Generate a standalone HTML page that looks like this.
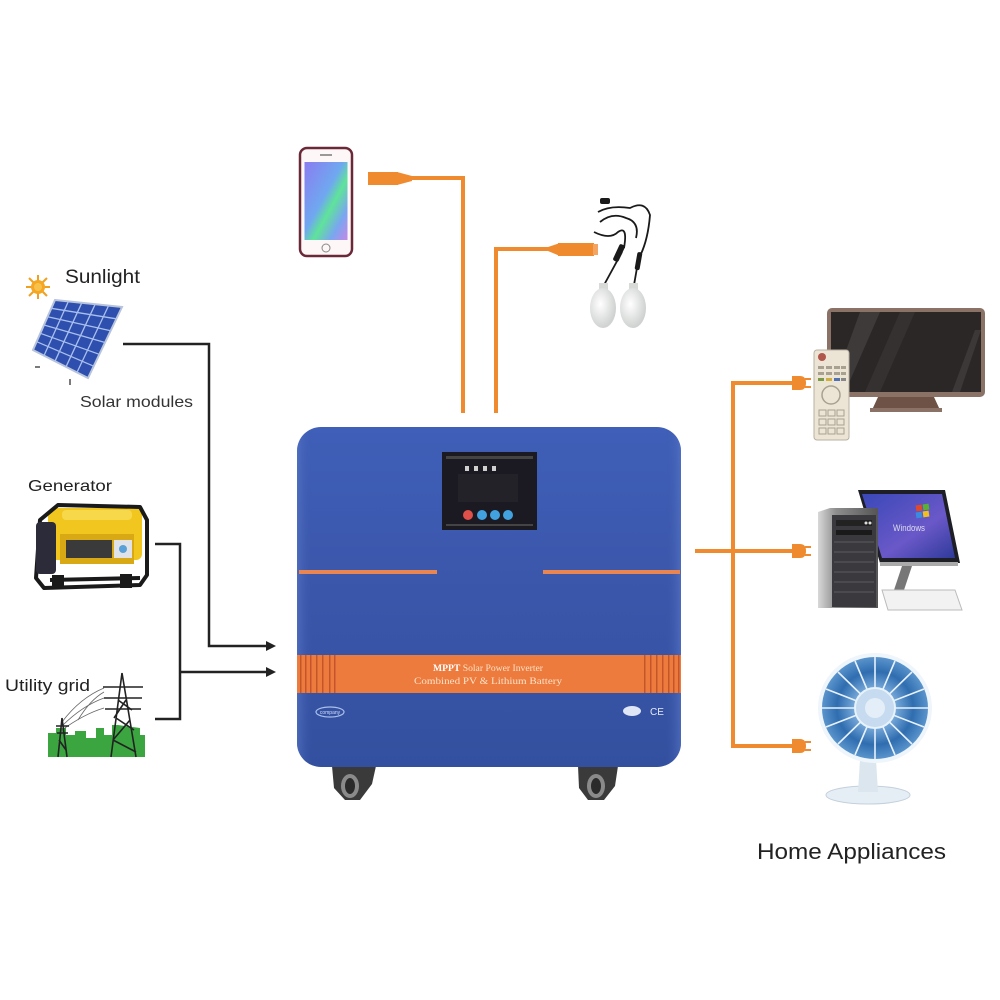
<!DOCTYPE html>
<html><head><meta charset="utf-8">
<style>
html,body{margin:0;padding:0;background:#fff;}
svg{display:block;}
text{font-family:"Liberation Sans",Arial,sans-serif;}
</style></head>
<body>
<svg width="1000" height="1000" viewBox="0 0 1000 1000" xmlns="http://www.w3.org/2000/svg">
<defs>
  <linearGradient id="boxg" x1="0" y1="0" x2="0" y2="1">
    <stop offset="0" stop-color="#3f5fb8"/>
    <stop offset="0.5" stop-color="#3a56aa"/>
    <stop offset="1" stop-color="#33509f"/>
  </linearGradient>
  <linearGradient id="boxh" x1="0" y1="0" x2="1" y2="0">
    <stop offset="0" stop-color="#5a78c8" stop-opacity="0.6"/>
    <stop offset="0.04" stop-color="#3a56aa" stop-opacity="0"/>
    <stop offset="0.96" stop-color="#3a56aa" stop-opacity="0"/>
    <stop offset="1" stop-color="#5a78c8" stop-opacity="0.6"/>
  </linearGradient>
  <linearGradient id="screen1" x1="0" y1="0" x2="1" y2="1">
    <stop offset="0" stop-color="#8a7cf0"/>
    <stop offset="0.45" stop-color="#6fa8f0"/>
    <stop offset="0.6" stop-color="#5fe39a"/>
    <stop offset="0.8" stop-color="#7aa6f0"/>
    <stop offset="1" stop-color="#c588e6"/>
  </linearGradient>
  <radialGradient id="fang" cx="0.5" cy="0.5" r="0.5">
    <stop offset="0" stop-color="#e0ecf7"/>
    <stop offset="0.35" stop-color="#7fb0de"/>
    <stop offset="0.72" stop-color="#2f6db0"/>
    <stop offset="1" stop-color="#5a94cc"/>
  </radialGradient>
  <linearGradient id="towerg" x1="0" y1="0" x2="1" y2="0">
    <stop offset="0" stop-color="#d8d8d8"/>
    <stop offset="0.3" stop-color="#8e8e8e"/>
    <stop offset="1" stop-color="#555"/>
  </linearGradient>
  <linearGradient id="monig" x1="0" y1="0" x2="1" y2="1">
    <stop offset="0" stop-color="#3a48b8"/>
    <stop offset="0.6" stop-color="#6a58c8"/>
    <stop offset="1" stop-color="#2e3a9a"/>
  </linearGradient>
  <radialGradient id="bulbg" cx="0.4" cy="0.4" r="0.6">
    <stop offset="0" stop-color="#ffffff"/>
    <stop offset="1" stop-color="#cfd2d0"/>
  </radialGradient>
</defs>

<!-- ============ LEFT SIDE ============ -->
<g transform="translate(38,287)">
  <g stroke="#f0a020" stroke-width="2">
    <line x1="-12" y1="0" x2="12" y2="0"/>
    <line x1="0" y1="-12" x2="0" y2="12"/>
    <line x1="-9" y1="-9" x2="9" y2="9"/>
    <line x1="-9" y1="9" x2="9" y2="-9"/>
  </g>
  <circle r="7" fill="#f5a623"/>
  <circle r="4" fill="#f7c24a"/>
</g>
<text x="65" y="283" font-size="19" fill="#222" textLength="75" lengthAdjust="spacingAndGlyphs">Sunlight</text>

<polygon points="55,300 122,307 88,378 33,350" fill="#2e4fae" stroke="#b8c4dc" stroke-width="2"/>
<g stroke="#a9c0ee" stroke-width="1.3">
  <line x1="68.4" y1="301.4" x2="44" y2="355.6"/>
  <line x1="81.8" y1="302.8" x2="55" y2="361.2"/>
  <line x1="95.2" y1="304.2" x2="66" y2="366.8"/>
  <line x1="108.6" y1="305.6" x2="77" y2="372.4"/>
  <line x1="51.3" y1="308.3" x2="116.3" y2="318.8"/>
  <line x1="47.7" y1="316.7" x2="110.7" y2="330.7"/>
  <line x1="44" y1="325" x2="105" y2="342.5"/>
  <line x1="40.3" y1="333.3" x2="99.3" y2="354.3"/>
  <line x1="36.7" y1="341.7" x2="93.7" y2="366.2"/>
</g>
<line x1="35" y1="367" x2="40" y2="367" stroke="#333" stroke-width="1.3"/>
<line x1="70" y1="379" x2="70" y2="385" stroke="#333" stroke-width="1.3"/>
<text x="80" y="407" font-size="16" fill="#333" textLength="113" lengthAdjust="spacingAndGlyphs">Solar modules</text>

<text x="28" y="491" font-size="16" fill="#222" textLength="84" lengthAdjust="spacingAndGlyphs">Generator</text>
<g>
  <rect x="48" y="508" width="94" height="52" rx="6" fill="#f1c61e"/>
  <path d="M40,520 L58,505 L140,507 L147,520 L147,575 L140,585 L44,588 L36,578 Z" fill="none" stroke="#1a1a1a" stroke-width="4" stroke-linejoin="round"/>
  <rect x="36" y="522" width="20" height="52" rx="4" fill="#2b2b3a"/>
  <rect x="60" y="534" width="74" height="30" fill="#d9a915"/>
  <rect x="66" y="540" width="46" height="18" fill="#3a3a3a"/>
  <rect x="114" y="540" width="18" height="18" fill="#dfe3e8"/>
  <circle cx="123" cy="549" r="4" fill="#5aa0d8"/>
  <rect x="62" y="510" width="70" height="10" rx="4" fill="#f7d84a"/>
  <line x1="50" y1="580" x2="140" y2="578" stroke="#1a1a1a" stroke-width="4"/>
  <rect x="52" y="575" width="12" height="14" fill="#1a1a1a"/>
  <rect x="120" y="574" width="12" height="14" fill="#1a1a1a"/>
</g>

<text x="5" y="691" font-size="17" fill="#222" textLength="85" lengthAdjust="spacingAndGlyphs">Utility grid</text>
<path d="M48,757 L48,733 L56,733 L56,728 L66,728 L66,735 L75,735 L75,731 L86,731 L86,738 L96,738 L96,728 L104,728 L104,735 L112,735 L112,725 L118,725 L140,728 L140,735 L145,735 L145,757 Z" fill="#3ba540"/>
<g stroke="#666" stroke-width="0.8" fill="none">
  <path d="M104,688 Q80,698 62,722"/>
  <path d="M104,698 Q82,706 62,726"/>
  <path d="M104,708 Q84,714 62,730"/>
  <path d="M104,692 Q90,700 78,720"/>
</g>
<g stroke="#222" stroke-width="1.6" fill="none">
  <path d="M122,673 L111,757 M122,673 L136,757"/>
  <path d="M118,700 L132,710 M126,700 L114,718 M116,718 L134,730 M130,720 L113,740 M113,740 L136,752"/>
  <path d="M103,687 L143,687 M104,698 L142,698 M105,709 L141,709"/>
  <path d="M62,718 L58,757 M62,718 L67,757 M56,726 L69,726 M57,733 L68,733 M59,740 L66,750"/>
</g>

<g stroke="#222" stroke-width="2.5" fill="none">
  <polyline points="123,344 209,344 209,646 268,646"/>
  <polyline points="155,544 180,544 180,719 155,719"/>
  <line x1="180" y1="672" x2="268" y2="672"/>
</g>
<polygon points="266,641 276,646 266,651" fill="#222"/>
<polygon points="266,667 276,672 266,677" fill="#222"/>

<!-- ============ TOP ============ -->
<rect x="300" y="148" width="52" height="108" rx="7" fill="#fdf7f7" stroke="#6a2838" stroke-width="2.5"/>
<rect x="304.5" y="162" width="43" height="78" fill="url(#screen1)"/>
<rect x="320" y="154" width="12" height="2" fill="#999"/>
<circle cx="326" cy="248" r="4" fill="none" stroke="#888" stroke-width="1"/>

<g fill="#ef8b2e">
  <rect x="368" y="172" width="30" height="13"/>
  <polygon points="397,172 412,176 412,181 397,185"/>
  <rect x="410" y="176" width="55" height="4"/>
  <rect x="461" y="176" width="4" height="237"/>
</g>

<g fill="#ef8b2e">
  <rect x="494" y="247" width="4" height="166"/>
  <rect x="494" y="247" width="56" height="4"/>
  <polygon points="548,247 560,243 560,256 548,251"/>
  <rect x="558" y="243" width="36" height="13"/>
  <rect x="593" y="244" width="5" height="11" fill="#f2a460"/>
</g>

<g fill="none" stroke="#1a1a1a" stroke-width="1.8">
  <path d="M598,212 Q610,205 630,208 Q645,200 650,215 Q648,240 640,256"/>
  <path d="M600,222 Q612,212 626,218 Q640,222 636,238"/>
  <path d="M594,232 Q610,240 618,232 Q628,225 624,248"/>
  <path d="M622,252 L604,285"/>
  <path d="M638,262 L634,285"/>
</g>
<g fill="#1a1a1a">
  <rect x="616" y="244" width="6" height="18" rx="2" transform="rotate(25 619 253)"/>
  <rect x="636" y="252" width="5" height="18" rx="2" transform="rotate(10 638 261)"/>
  <rect x="600" y="198" width="10" height="6" rx="2"/>
</g>
<g>
  <rect x="599" y="283" width="9" height="8" fill="#d8dad8"/>
  <ellipse cx="603" cy="308" rx="13" ry="20" fill="url(#bulbg)"/>
  <rect x="629" y="283" width="9" height="8" fill="#d8dad8"/>
  <ellipse cx="633" cy="308" rx="13" ry="20" fill="url(#bulbg)"/>
</g>

<!-- ============ INVERTER ============ -->
<g>
  <path d="M332,766 L376,766 L372,784 L360,800 L345,800 L334,788 Z" fill="#3a3a3a"/>
  <ellipse cx="350" cy="786" rx="9" ry="12" fill="#8a8a8a"/>
  <ellipse cx="350" cy="786" rx="5" ry="8" fill="#2a2a2a"/>
  <path d="M578,766 L618,766 L615,786 L604,800 L588,800 L579,788 Z" fill="#3a3a3a"/>
  <ellipse cx="596" cy="786" rx="9" ry="12" fill="#8a8a8a"/>
  <ellipse cx="596" cy="786" rx="5" ry="8" fill="#2a2a2a"/>
</g>
<rect x="297" y="427" width="384" height="340" rx="24" fill="url(#boxg)"/>
<rect x="297" y="427" width="384" height="340" rx="24" fill="url(#boxh)"/>
<rect x="442" y="452" width="95" height="78" fill="#1b1a22"/>
<rect x="446" y="456" width="87" height="3" fill="#444"/>
<rect x="446" y="524" width="87" height="2" fill="#444"/>
<rect x="458" y="474" width="60" height="28" fill="#232229"/>
<g fill="#cfcfcf">
  <rect x="465" y="466" width="4" height="5"/>
  <rect x="474" y="466" width="4" height="5"/>
  <rect x="483" y="466" width="4" height="5"/>
  <rect x="492" y="466" width="4" height="5"/>
</g>
<circle cx="468" cy="515" r="5" fill="#e0504a"/>
<circle cx="482" cy="515" r="5" fill="#42a2e0"/>
<circle cx="495" cy="515" r="5" fill="#42a2e0"/>
<circle cx="508" cy="515" r="5" fill="#42a2e0"/>
<rect x="299" y="570" width="138" height="4" fill="#e98550"/>
<rect x="543" y="570" width="137" height="4" fill="#e98550"/>
<rect x="297" y="655" width="384" height="38" fill="#ec7b3d"/>
<g fill="#c4552a">
  <rect x="300" y="655" width="1.5" height="38"/>
  <rect x="305" y="655" width="1.5" height="38"/>
  <rect x="310" y="655" width="1.5" height="38"/>
  <rect x="316" y="655" width="1.5" height="38"/>
  <rect x="322" y="655" width="1.5" height="38"/>
  <rect x="329" y="655" width="1.5" height="38"/>
  <rect x="334" y="655" width="1.5" height="38"/>
  <rect x="644" y="655" width="1.5" height="38"/>
  <rect x="650" y="655" width="1.5" height="38"/>
  <rect x="656" y="655" width="1.5" height="38"/>
  <rect x="662" y="655" width="1.5" height="38"/>
  <rect x="668" y="655" width="1.5" height="38"/>
  <rect x="673" y="655" width="1.5" height="38"/>
  <rect x="678" y="655" width="1.5" height="38"/>
</g>
<text x="488" y="671" font-size="9" fill="#fbe2c8" text-anchor="middle" style="font-family:'Liberation Serif',serif" textLength="110" lengthAdjust="spacingAndGlyphs"><tspan font-weight="bold" fill="#fff">MPPT</tspan> Solar Power Inverter</text>
<text x="488" y="684" font-size="9" fill="#fbe2c8" text-anchor="middle" style="font-family:'Liberation Serif',serif" textLength="148" lengthAdjust="spacingAndGlyphs">Combined PV &amp; Lithium Battery</text>
<ellipse cx="330" cy="712" rx="14" ry="5" fill="none" stroke="#aac0ea" stroke-width="1.2"/>
<text x="330" y="714" font-size="5" fill="#d0ddf5" text-anchor="middle">company</text>
<ellipse cx="632" cy="711" rx="9" ry="5" fill="#dfe6f5"/>
<text x="650" y="715" font-size="10" fill="#e4eaf7">CE</text>

<!-- ============ RIGHT SIDE ============ -->
<g fill="#ef8b2e">
  <rect x="695" y="549" width="38" height="4"/>
  <rect x="731" y="381" width="4" height="367"/>
  <rect x="731" y="381" width="62" height="4"/>
  <rect x="733" y="549" width="60" height="4"/>
  <rect x="731" y="744" width="62" height="4"/>
</g>
<g fill="#ef8b2e">
  <path d="M792,376 L800,376 Q806,376 806,383 Q806,390 800,390 L792,390 Z"/>
  <rect x="805" y="378" width="6" height="2"/>
  <rect x="805" y="386" width="6" height="2"/>
  <path d="M792,544 L800,544 Q806,544 806,551 Q806,558 800,558 L792,558 Z"/>
  <rect x="805" y="546" width="6" height="2"/>
  <rect x="805" y="554" width="6" height="2"/>
  <path d="M792,739 L800,739 Q806,739 806,746 Q806,753 800,753 L792,753 Z"/>
  <rect x="805" y="741" width="6" height="2"/>
  <rect x="805" y="749" width="6" height="2"/>
</g>

<rect x="827" y="308" width="158" height="89" rx="5" fill="#8a7267"/>
<rect x="831" y="312" width="150" height="80" fill="#2b2727"/>
<polygon points="860,312 880,312 845,392 831,392" fill="#3f3a3a"/>
<polygon points="900,312 915,312 880,392 865,392" fill="#353131"/>
<polygon points="975,330 981,330 960,392 952,392" fill="#3d3838"/>
<path d="M878,397 L934,397 L940,410 L872,410 Z" fill="#6e5246"/>
<rect x="870" y="408" width="72" height="4" fill="#8a7267"/>
<rect x="814" y="350" width="35" height="90" rx="3" fill="#ece5d5" stroke="#b9b0a0" stroke-width="1"/>
<circle cx="822" cy="357" r="4" fill="#b0564a"/>
<g fill="#a8a090">
  <rect x="818" y="366" width="6" height="3"/><rect x="826" y="366" width="6" height="3"/><rect x="834" y="366" width="6" height="3"/><rect x="841" y="366" width="5" height="3"/>
  <rect x="818" y="372" width="6" height="3"/><rect x="826" y="372" width="6" height="3"/><rect x="834" y="372" width="6" height="3"/><rect x="841" y="372" width="5" height="3"/>
</g>
<g>
  <rect x="818" y="378" width="6" height="3" fill="#7a9a4a"/><rect x="826" y="378" width="6" height="3" fill="#d0b040"/><rect x="834" y="378" width="6" height="3" fill="#5070b0"/><rect x="841" y="378" width="5" height="3" fill="#888"/>
</g>
<circle cx="831" cy="395" r="9" fill="none" stroke="#a8a090" stroke-width="1.5"/>
<g fill="none" stroke="#a8a090" stroke-width="1">
  <rect x="819" y="410" width="7" height="6"/><rect x="828" y="410" width="7" height="6"/><rect x="837" y="410" width="7" height="6"/>
  <rect x="819" y="419" width="7" height="6"/><rect x="828" y="419" width="7" height="6"/><rect x="837" y="419" width="7" height="6"/>
  <rect x="819" y="428" width="7" height="6"/><rect x="828" y="428" width="7" height="6"/><rect x="837" y="428" width="7" height="6"/>
</g>

<polygon points="858,490 945,490 960,563 880,563" fill="#1e1e26"/>
<polygon points="862,494 942,494 955,558 882,558" fill="url(#monig)"/>
<g>
  <rect x="916" y="505" width="6" height="6" fill="#e04a2a" transform="rotate(-8 919 508)"/>
  <rect x="923" y="504" width="6" height="6" fill="#5ab030" transform="rotate(-8 926 507)"/>
  <rect x="916" y="512" width="6" height="6" fill="#3a8ae0" transform="rotate(-8 919 515)"/>
  <rect x="923" y="511" width="6" height="6" fill="#f0c020" transform="rotate(-8 926 514)"/>
</g>
<text x="893" y="531" font-size="9" fill="#dde" textLength="32" lengthAdjust="spacingAndGlyphs">Windows</text>
<rect x="880" y="562" width="78" height="4" fill="#aaa"/>
<polygon points="902,566 912,566 904,590 894,590" fill="#777"/>
<polygon points="882,590 955,590 962,610 888,610" fill="#f2f2f2" stroke="#bbb" stroke-width="1"/>
<polygon points="818,512 830,508 878,508 878,608 818,608" fill="url(#towerg)"/>
<rect x="832" y="515" width="44" height="92" fill="#3a3a3e"/>
<rect x="836" y="520" width="36" height="6" fill="#222"/>
<rect x="836" y="530" width="36" height="5" fill="#1a1a1a"/>
<circle cx="866" cy="523" r="1.5" fill="#ddd"/>
<circle cx="870" cy="523" r="1.5" fill="#ddd"/>
<g stroke="#5a5a60" stroke-width="1">
  <line x1="834" y1="542" x2="874" y2="542"/><line x1="834" y1="552" x2="874" y2="552"/>
  <line x1="834" y1="562" x2="874" y2="562"/><line x1="834" y1="572" x2="874" y2="572"/>
  <line x1="834" y1="582" x2="874" y2="582"/><line x1="834" y1="592" x2="874" y2="592"/>
</g>

<ellipse cx="868" cy="795" rx="42" ry="9" fill="#e6eef5" stroke="#c4d0dc" stroke-width="1"/>
<path d="M860,760 L876,760 L878,792 L858,792 Z" fill="#dce6ef"/>
<ellipse cx="875" cy="708" rx="57" ry="55" fill="#eef5fb"/>
<ellipse cx="875" cy="708" rx="53" ry="51" fill="url(#fang)"/>
<g stroke="#e8f2fb" stroke-width="1.6">
  <line x1="875" y1="708" x2="875" y2="657"/>
  <line x1="875" y1="708" x2="928" y2="708"/>
  <line x1="875" y1="708" x2="875" y2="759"/>
  <line x1="875" y1="708" x2="822" y2="708"/>
  <line x1="875" y1="708" x2="912" y2="672"/>
  <line x1="875" y1="708" x2="912" y2="744"/>
  <line x1="875" y1="708" x2="838" y2="744"/>
  <line x1="875" y1="708" x2="838" y2="672"/>
  <line x1="875" y1="708" x2="895" y2="661"/>
  <line x1="875" y1="708" x2="924" y2="727"/>
  <line x1="875" y1="708" x2="855" y2="755"/>
  <line x1="875" y1="708" x2="826" y2="689"/>
  <line x1="875" y1="708" x2="855" y2="661"/>
  <line x1="875" y1="708" x2="924" y2="689"/>
  <line x1="875" y1="708" x2="895" y2="755"/>
  <line x1="875" y1="708" x2="826" y2="727"/>
</g>
<circle cx="875" cy="708" r="20" fill="#c6dbef" stroke="#e8f2fb" stroke-width="2"/>
<circle cx="875" cy="708" r="10" fill="#e4eef8"/>

<text x="757" y="859" font-size="22" fill="#222" textLength="189" lengthAdjust="spacingAndGlyphs">Home Appliances</text>
</svg>
</body></html>
